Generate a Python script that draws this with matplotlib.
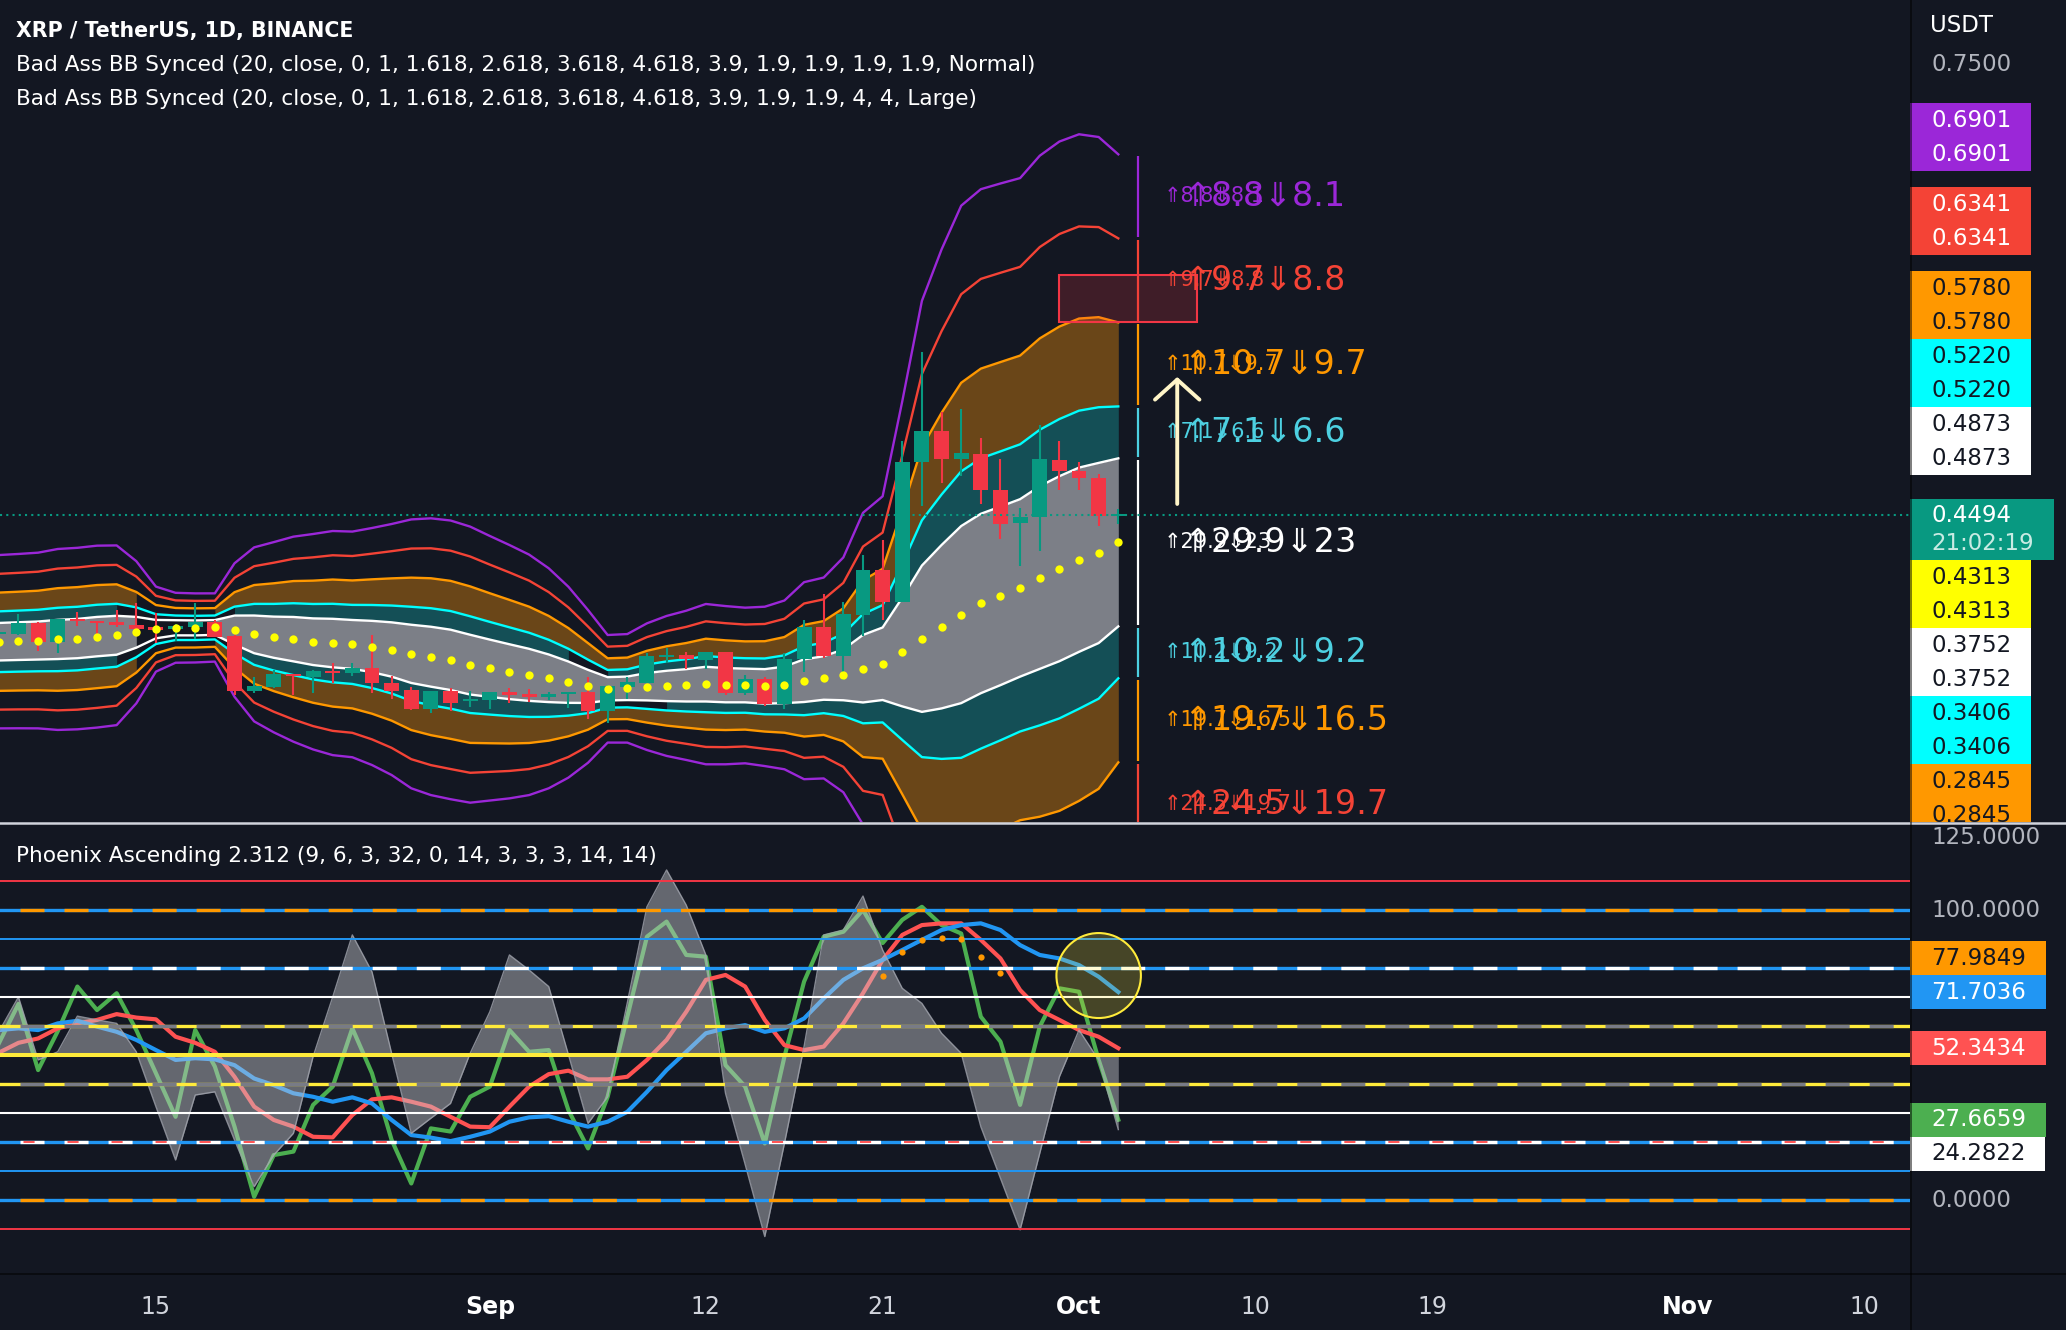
import numpy as np
import matplotlib
matplotlib.use('Agg')
import matplotlib.pyplot as plt
from matplotlib.patches import Rectangle, Ellipse
from matplotlib.lines import Line2D

W, H = 2066, 1330
BG = '#131722'
UP, DOWN = '#089981', '#f23645'
plt.rcParams['lines.scale_dashes'] = False
plt.rcParams['font.family'] = ['DejaVu Sans']

# ---------------- data (days counted from 1 Oct) ----------------
days = np.arange(-55, 3)
opens = [0.3702, 0.3702, 0.3773, 0.3650, 0.3799, 0.3786, 0.3779, 0.3759, 0.3741, 0.3733,
         0.3750, 0.3784, 0.3690, 0.3323, 0.3350, 0.3435, 0.3417, 0.3452, 0.3439, 0.3472,
         0.3372, 0.3328, 0.3203, 0.3321, 0.3252, 0.3261, 0.3314, 0.3299, 0.3279, 0.3299,
         0.3314, 0.3190, 0.3350, 0.3377, 0.3546, 0.3561, 0.3528, 0.3579, 0.3306, 0.3399,
         0.3234, 0.3532, 0.3750, 0.3557, 0.3831, 0.4128, 0.3914, 0.4846, 0.5055, 0.4867,
         0.4903, 0.4665, 0.4444, 0.4480, 0.4861, 0.4790, 0.4742, 0.4486]
highs = [0.3750, 0.3835, 0.3784, 0.3799, 0.3848, 0.3788, 0.3862, 0.3906, 0.3839, 0.3768,
         0.3906, 0.3795, 0.3692, 0.3412, 0.3461, 0.3437, 0.3461, 0.3506, 0.3506, 0.3695,
         0.3421, 0.3350, 0.3321, 0.3339, 0.3319, 0.3314, 0.3341, 0.3332, 0.3312, 0.3314,
         0.3412, 0.3363, 0.3412, 0.3577, 0.3610, 0.3584, 0.3584, 0.3584, 0.3428, 0.3412,
         0.3573, 0.3795, 0.3968, 0.3914, 0.4227, 0.4331, 0.4992, 0.5582, 0.5180, 0.5201,
         0.5010, 0.4867, 0.4545, 0.5096, 0.4986, 0.4852, 0.4772, 0.4533]
lows = [0.3684, 0.3695, 0.3590, 0.3572, 0.3757, 0.3684, 0.3750, 0.3733, 0.3639, 0.3655,
        0.3668, 0.3680, 0.3295, 0.3306, 0.3339, 0.3295, 0.3310, 0.3377, 0.3423, 0.3310,
        0.3270, 0.3194, 0.3172, 0.3190, 0.3217, 0.3203, 0.3239, 0.3248, 0.3261, 0.3210,
        0.3137, 0.3106, 0.3270, 0.3377, 0.3506, 0.3470, 0.3466, 0.3295, 0.3295, 0.3221,
        0.3199, 0.3450, 0.3542, 0.3393, 0.3691, 0.3795, 0.3914, 0.4554, 0.4712, 0.4754,
        0.4569, 0.4337, 0.4158, 0.4257, 0.4659, 0.4659, 0.4420, 0.4435]
closes = [0.3710, 0.3773, 0.3650, 0.3799, 0.3786, 0.3775, 0.3762, 0.3737, 0.3730, 0.3755,
          0.3779, 0.3684, 0.3323, 0.3354, 0.3435, 0.3421, 0.3455, 0.3439, 0.3472, 0.3372,
          0.3323, 0.3203, 0.3321, 0.3243, 0.3261, 0.3314, 0.3295, 0.3279, 0.3299, 0.3314,
          0.3190, 0.3354, 0.3381, 0.3555, 0.3561, 0.3532, 0.3579, 0.3306, 0.3399, 0.3234,
          0.3535, 0.3746, 0.3557, 0.3834, 0.4128, 0.3914, 0.4846, 0.5055, 0.4867, 0.4909,
          0.4665, 0.4435, 0.4480, 0.4867, 0.4790, 0.4742, 0.4486, 0.4494]

basis = [0.3650, 0.3654, 0.3658, 0.3665, 0.3671, 0.3684, 0.3693, 0.3713, 0.3734, 0.3743,
         0.3742, 0.3745, 0.3728, 0.3699, 0.3680, 0.3667, 0.3650, 0.3641, 0.3632, 0.3618,
         0.3598, 0.3569, 0.3550, 0.3529, 0.3497, 0.3473, 0.3450, 0.3429, 0.3406, 0.3380,
         0.3352, 0.3336, 0.3339, 0.3350, 0.3355, 0.3359, 0.3367, 0.3360, 0.3358, 0.3352,
         0.3362, 0.3390, 0.3408, 0.3429, 0.3470, 0.3503, 0.3581, 0.3670, 0.3750, 0.3831,
         0.3905, 0.3956, 0.4009, 0.4078, 0.4137, 0.4197, 0.4242, 0.431275]
dev = [0.01252, 0.01259, 0.01269, 0.01307, 0.01311, 0.01314, 0.01298, 0.01027, 0.00614, 0.00505,
       0.00499, 0.00493, 0.00964, 0.01257, 0.01374, 0.01481, 0.01556, 0.01619, 0.01630, 0.01712,
       0.01813, 0.01942, 0.01999, 0.02013, 0.01994, 0.01911, 0.01830, 0.01737, 0.01589, 0.01379,
       0.01103, 0.00777, 0.00784, 0.00915, 0.01011, 0.01078, 0.01158, 0.01143, 0.01124, 0.01151,
       0.01219, 0.01423, 0.01451, 0.01696, 0.02252, 0.02419, 0.03623, 0.04881, 0.05450, 0.05907,
       0.05985, 0.05957, 0.05920, 0.06094, 0.06171, 0.06146, 0.06009, 0.056055]
band_mults = [1, 1.618, 2.618, 3.618, 4.618]
band_colors = ['#ffffff', '#00ffff', '#ff9800', '#f44336', '#9b27d8']
zone_colors = ['#9b27d8', '#f44336', '#ff9800', '#4dd0e1', '#ffffff', '#4dd0e1', '#ff9800', '#f44336', '#9b27d8']
zone_texts = ['⇑8.8⇓8.1', '⇑9.7⇓8.8', '⇑10.7⇓9.7', '⇑7.1⇓6.6', '⇑29.9⇓23',
              '⇑10.2⇓9.2', '⇑19.7⇓16.5', '⇑24.5⇓19.7']
gray_gaps = [(-47, -44)]
teal_up_gaps = [(-48, -43), (-25, -24)]
teal_dn_gaps = [(-48, -43), (-23, -21)]
box_days = (-1, 6)
box_prices = (0.578, 0.6095)
arrow_day = 5
arrow_prices = (0.4569, 0.5416)
countdown = '21:02:19'

green = [54.0, 67.6, 44.8, 58.2, 73.6, 65.5, 71.3, 58.6, 43.7, 28.7, 58.6, 46.0, 25.3, 1.1, 15.5,
         16.7, 32.8, 39.1, 59.2, 43.7, 20.7, 5.7, 24.7, 23.6, 35.6, 39.1, 58.6, 51.1, 51.7, 31.0,
         17.8, 35.6, 63.2, 90.8, 96.0, 84.5, 83.9, 46.5, 39.1, 19.5, 49.4, 75.3, 90.8, 92.5, 100.0,
         88.6, 96.6, 101.1, 94.8, 91.9, 63.2, 54.6, 32.8, 59.8, 73.0, 71.8, 48.3, 27.6659]
red = [50.8, 54.2, 55.7, 59.2, 60.9, 62.1, 64.1, 62.9, 62.3, 56.3, 54.2, 51.1, 42.5, 32.2, 27.6,
       25.3, 21.8, 21.6, 29.3, 34.7, 35.4, 33.9, 32.2, 28.7, 25.3, 25.1, 32.2, 39.1, 43.4, 44.6,
       41.6, 41.6, 42.5, 48.3, 55.2, 64.9, 75.9, 77.6, 73.6, 62.1, 53.4, 51.7, 52.9, 60.9, 71.3,
       82.8, 91.4, 94.8, 95.4, 95.4, 89.7, 83.3, 72.4, 65.5, 62.1, 58.6, 56.3, 52.3434]
blue = [58.6, 59.2, 58.6, 60.9, 61.8, 59.8, 58.0, 55.2, 51.7, 48.3, 48.9, 48.5, 46.5, 41.9, 39.6,
        36.8, 35.6, 33.9, 35.4, 33.3, 27.6, 22.4, 21.5, 20.3, 21.8, 23.6, 27.0, 28.5, 28.9, 27.0,
        25.3, 27.0, 30.4, 37.3, 44.8, 51.1, 57.5, 59.2, 60.3, 58.0, 59.2, 62.6, 69.5, 75.9, 79.9,
        82.8, 86.2, 89.7, 93.1, 94.8, 95.4, 93.1, 87.9, 84.5, 83.3, 81.0, 77.0, 71.7036]
gray = [58.0, 70.0, 48.3, 51.1, 63.4, 62.1, 60.9, 51.1, 32.2, 13.8, 36.2, 37.3, 20.7, 4.6, 15.5,
        23.0, 49.4, 70.0, 91.4, 78.7, 50.6, 23.0, 28.2, 33.3, 50.6, 64.9, 84.5, 79.3, 73.6, 50.2,
        26.4, 35.6, 68.0, 101.1, 113.8, 101.7, 84.5, 36.8, 12.3, -12.6, 19.5, 52.9, 91.4, 93.1, 104.8,
        86.2, 73.0, 67.8, 57.5, 50.6, 25.3, 7.5, -10.3, 16.1, 42.5, 58.6, 48.3, 24.2822]
dot_days = np.arange(-10, -3)
dot_vals = [77.2, 85.6, 89.7, 90.5, 90.1, 83.9, 78.2]
orange_last = 77.9849
osc_levels = [110, 100, 90, 80, 70, 60, 50, 40, 30, 20, 10, 0, -10]
circle_center = (1.0, 77.4)
circle_size = (4.3, 29.3)

tick_days = [-47, -30, -19, -10, 0, 9, 18, 31, 40]
tick_labels = ['15', 'Sep', '12', '21', 'Oct', '10', '19', 'Nov', '10']

# ---------------- figure ----------------
fig = plt.figure(figsize=(W / 100, H / 100), dpi=100, facecolor=BG)
ax1 = fig.add_axes([0, 1 - 822 / H, 1910 / W, 822 / H])
ax2 = fig.add_axes([0, 1 - 1273 / H, 1910 / W, (1273 - 823) / H])
for ax in (ax1, ax2):
    ax.set_facecolor(BG)
    for s in ax.spines.values():
        s.set_visible(False)
    ax.set_xlim(-54.94, 42.31)
ax1.set_ylim(0.24473, 0.79310)
ax2.set_ylim(-25.17, 130.0)
ax1.set_xticks([])
ax1.set_yticks([])
ax2.set_yticks([])

b = np.array(basis)
s = np.array(dev)
ups = [b + k * s for k in band_mults]
dns = [b - k * s for k in band_mults]


def runs(gaps):
    on = [not any(a <= d <= e for a, e in gaps) for d in days]
    out, start = [], None
    for i in range(1, len(days)):
        if on[i]:
            if start is None:
                start = i - 1
        elif start is not None:
            out.append((start, i))
            start = None
    if start is not None:
        out.append((start, len(days)))
    return out


def band_fill(lo, hi, gaps, color):
    for a, e in runs(gaps):
        ax1.fill_between(days[a:e], lo[a:e], hi[a:e], color=color, lw=0, zorder=1)


band_fill(dns[0], ups[0], gray_gaps, '#7c7f87')
band_fill(ups[0], ups[1], teal_up_gaps, '#144f56')
band_fill(dns[1], dns[0], teal_dn_gaps, '#144f56')
band_fill(ups[1], ups[2], gray_gaps, '#6a4618')
band_fill(dns[2], dns[1], gray_gaps, '#6a4618')

for u, d_, c in zip(ups, dns, band_colors):
    ax1.plot(days, u, color=c, lw=1.7, zorder=2)
    ax1.plot(days, d_, color=c, lw=1.7, zorder=2)

# candles
o, hi_, lo_, c_ = map(np.array, (opens, highs, lows, closes))
cols = np.where(c_ >= o, UP, DOWN)
ax1.vlines(days, lo_, hi_, colors=cols, lw=1.5, zorder=3)
ax1.bar(days, np.maximum(np.abs(c_ - o), 0.0016), 0.76, bottom=np.minimum(o, c_),
        color=cols, lw=0, zorder=3.1)
ax1.plot(days, b, 'o', color='#ffff00', ms=6, mew=0, zorder=4)
ax1.axhline(c_[-1], color=UP, lw=1.5, ls=(0, (1.5, 3)), zorder=5)

# zone marker column and labels (two overlapping indicator copies: normal and large)
levels = [u[-1] for u in ups[::-1]] + [d_[-1] for d_ in dns]
xcol = days[-1] + 1
for i in range(len(levels) - 1):
    ax1.vlines(xcol, levels[i + 1] + 0.0012, levels[i] - 0.0012, color=zone_colors[i], lw=1.6, zorder=2)
for i, t in enumerate(zone_texts):
    mid = (levels[i] + levels[i + 1]) / 2
    ax1.text(xcol + 1.3, mid, t, color=zone_colors[i], fontsize=15, va='center', ha='left',
             clip_on=True, zorder=6)
    ax1.text(xcol + 2.3, mid, t, color=zone_colors[i], fontsize=24, va='center', ha='left',
             clip_on=True, zorder=6)

ax1.add_patch(Rectangle((box_days[0], box_prices[0]), box_days[1] - box_days[0],
                        box_prices[1] - box_prices[0], fc=(0.95, 0.21, 0.27, 0.2),
                        ec='#f23645', lw=1.5, zorder=2))
ax1.annotate('', xy=(arrow_day, arrow_prices[1]), xytext=(arrow_day, arrow_prices[0]),
             arrowprops=dict(arrowstyle='->,head_length=0.45,head_width=0.5', color='#fff5c8',
                             lw=2.8, shrinkA=0, shrinkB=0, mutation_scale=32), zorder=6)

# ---------------- oscillator ----------------
ax2.plot(days, green, color='#4caf50', lw=3, zorder=1)
ax2.plot(days, red, color='#ff5252', lw=3, zorder=1)
ax2.plot(days, blue, color='#2196f3', lw=3, zorder=1)
ax2.fill_between(days, gray, 50, color='#c8c9cf', alpha=0.45, lw=0, zorder=2)
ax2.plot(days, gray, color='#a3a6af', lw=1, alpha=0.8, zorder=2)

ON, OFF = 17.3, 14.4
for v in osc_levels:
    if v in (110, -10):
        ax2.axhline(v, color='#f23645', lw=1.4, zorder=3)
    elif v in (90, 10):
        ax2.axhline(v, color='#2196f3', lw=1.4, zorder=3)
    elif v in (70, 30):
        ax2.axhline(v, color='#ffffff', lw=1.5, zorder=3)
    elif v == 50:
        ax2.axhline(v, color='#ffeb3b', lw=2.9, zorder=3)
    elif v in (100, 0):
        ax2.axhline(v, color='#2196f3', lw=2.4, zorder=3)
        ax2.axhline(v, color='#ff9800', lw=2.4, ls=(ON, (ON, OFF)), zorder=3.1)
    elif v == 80:
        ax2.axhline(v, color='#2196f3', lw=2.4, zorder=3)
        ax2.axhline(v, color='#ffffff', lw=2.4, ls=(ON, (ON, OFF)), zorder=3.1)
    elif v in (60, 40):
        ax2.axhline(v, color='#ffeb3b', lw=2.4, zorder=3)
        ax2.axhline(v, color='#787b86', lw=2.4, ls=(ON, (ON, OFF)), zorder=3.1)
    elif v == 20:
        ax2.axhline(v, color='#2196f3', lw=2.4, zorder=3)
        ax2.axhline(v, color='#ffffff', lw=2.4, ls=(ON, (ON, OFF)), zorder=3.1)
        ax2.axhline(v, color='#ff5252', lw=1.4, ls=(14.8, (8, ON + OFF - 8)), zorder=3.2)

ax2.plot(dot_days, dot_vals, 'o', color='#ff9800', ms=4.5, mew=0, zorder=4)
ax2.add_patch(Ellipse(circle_center, circle_size[0], circle_size[1], fc=(1, 0.92, 0.23, 0.22),
                      ec='#ffeb3b', lw=1.5, zorder=5))

ax2.set_xticks(tick_days)
ax2.set_xticklabels(tick_labels)
ax2.tick_params(axis='x', length=0, pad=16, labelsize=17, labelcolor='#d1d4dc')
for lab in ax2.get_xticklabels():
    if lab.get_text() in ('Sep', 'Oct', 'Nov'):
        lab.set_fontweight('bold')
        lab.set_color('#ffffff')

# ---------------- right price scales ----------------
ovp = fig.add_axes([1910 / W, 1 - 822 / H, 156 / W, 822 / H])
ovp.set_xlim(1910, 2066)
ovp.set_ylim(822, 0)
ovo = fig.add_axes([1910 / W, 1 - 1273 / H, 156 / W, (1273 - 823) / H])
ovo.set_xlim(1910, 2066)
ovo.set_ylim(1273, 823)
for ov in (ovp, ovo):
    ov.axis('off')

renderer = fig.canvas.get_renderer()
FS = 16.5


def ypix(ax, v):
    return H - ax.transData.transform((0, v))[1]


def scale_box(ov, yc, text, fc, tc, h=34, sub=None):
    t = ov.text(1931, yc, text, color=tc, fontsize=FS, va='center', ha='left', zorder=3, clip_on=True)
    w = t.get_window_extent(renderer).width
    top = yc - h / 2
    hh = h
    if sub is not None:
        t2 = ov.text(1931, yc + 28, sub, color='#c9ebe3', fontsize=FS, va='center', ha='left',
                     zorder=3, clip_on=True)
        w = max(w, t2.get_window_extent(renderer).width)
        top, hh = yc - 16, 61
    ov.add_patch(Rectangle((1910, top), w + 41, hh, fc=fc, ec='none', zorder=2))


for v in np.arange(0.25, 0.80, 0.05):
    ovp.text(1931, ypix(ax1, v), f'{v:.4f}', color='#b2b5be', fontsize=FS, va='center', zorder=1,
             clip_on=True)
for v in np.arange(0, 130, 25):
    ovo.text(1931, ypix(ax2, v), f'{v:.4f}', color='#b2b5be', fontsize=FS, va='center', zorder=1,
             clip_on=True)

txt_dark = '#131722'
box_style = {'#ffffff': txt_dark, '#00ffff': txt_dark, '#ff9800': txt_dark,
             '#f44336': '#ffffff', '#9b27d8': '#ffffff'}
yp = ypix(ax1, c_[-1])
scale_box(ovp, yp, f'{c_[-1]:.4f}', UP, '#ffffff', sub=countdown)
top = yp - 16
for u, col in zip(ups, band_colors):
    for _ in range(2):
        yc = min(ypix(ax1, u[-1]), top - 17)
        scale_box(ovp, yc, f'{u[-1]:.4f}', col, box_style[col])
        top = yc - 17
bottom = yp + 45
below = [(b[-1], '#ffff00')] + [(d_[-1], col) for d_, col in zip(dns, band_colors)]
for val, col in below:
    for _ in range(2):
        yc = max(ypix(ax1, val), bottom + 17)
        scale_box(ovp, yc, f'{val:.4f}', col, box_style.get(col, txt_dark))
        bottom = yc + 17

# oscillator scale labels, blue value anchored
yb = ypix(ax2, blue[-1])
scale_box(ovo, yb, f'{blue[-1]:.4f}', '#2196f3', '#ffffff')
yc = min(ypix(ax2, orange_last), yb - 34)
scale_box(ovo, yc, f'{orange_last:.4f}', '#ff9800', txt_dark)
bottom = yb + 17
for val, col, tc in [(red[-1], '#ff5252', '#ffffff'), (green[-1], '#4caf50', '#ffffff'),
                     (gray[-1], '#ffffff', txt_dark)]:
    yc = max(ypix(ax2, val), bottom + 17)
    scale_box(ovo, yc, f'{val:.4f}', col, tc)
    bottom = yc + 17

# ---------------- separators and legends ----------------
fig.add_artist(Line2D([0, 1], [1 - 822.5 / H] * 2, color='#d1d4dc', lw=1.8))
fig.add_artist(Line2D([0, 1], [1 - 1273.5 / H] * 2, color='#000000', lw=1.2, alpha=0.6))
fig.add_artist(Line2D([1910.5 / W] * 2, [0, 1], color='#000000', lw=1.2, alpha=0.6))

fig.text(16 / W, 1 - 31 / H, 'XRP / TetherUS, 1D, BINANCE', color='#ffffff', fontsize=14.8,
         fontweight='bold', va='center')
fig.text(16 / W, 1 - 65 / H,
         'Bad Ass BB Synced (20, close, 0, 1, 1.618, 2.618, 3.618, 4.618, 3.9, 1.9, 1.9, 1.9, 1.9, Normal)',
         color='#ffffff', fontsize=15.6, va='center')
fig.text(16 / W, 1 - 99 / H,
         'Bad Ass BB Synced (20, close, 0, 1, 1.618, 2.618, 3.618, 4.618, 3.9, 1.9, 1.9, 4, 4, Large)',
         color='#ffffff', fontsize=15.6, va='center')
fig.text(16 / W, 1 - 856 / H, 'Phoenix Ascending 2.312 (9, 6, 3, 32, 0, 14, 3, 3, 3, 14, 14)',
         color='#ffffff', fontsize=15.6, va='center')
fig.text(1930 / W, 1 - 26 / H, 'USDT', color='#ffffff', fontsize=FS, va='center')

fig.savefig('out.png', dpi=100, facecolor=BG)
